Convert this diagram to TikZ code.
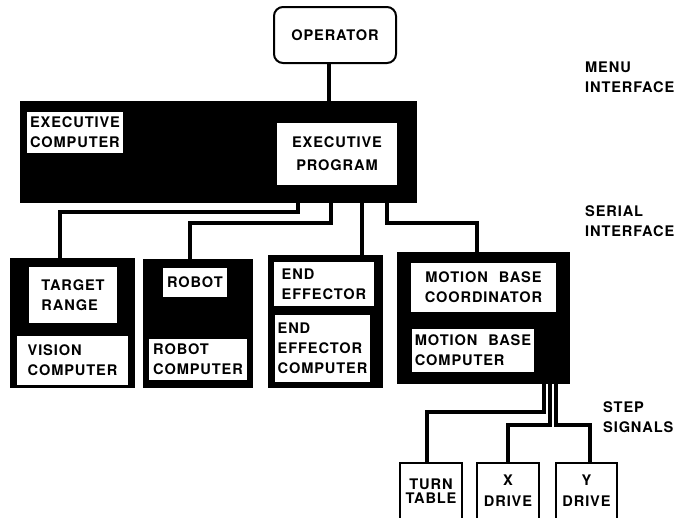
\documentclass[tikz,border=0pt]{standalone}
\usepackage{fontspec}
\setmainfont{TeX Gyre Heros}[LetterSpace=6]
\newcommand\lbltext{\bfseries\fontsize{14.6}{20}\selectfont}
\begin{document}
\begin{tikzpicture}[x=1pt,y=-1pt,
  box/.style={anchor=north west, inner sep=0pt, outer sep=0pt},
  blk/.style={box, fill=black},
  wht/.style={box, fill=white, align=left, font=\lbltext},
  obox/.style={box, draw=black, line width=2pt, fill=white, align=center, font=\lbltext},
  conn/.style={line width=3.4pt},
  side/.style={anchor=north west, align=left, font=\lbltext, inner sep=0pt}]
\useasboundingbox (0,0) rectangle (680,517);
% operator
\node[obox, rounded corners=9pt, minimum width=122, minimum height=56] (op) at (274,7) {OPERATOR};
% executive
\node[blk, minimum width=397, minimum height=102] (exec) at (20,101) {};
\node[wht, minimum width=96, minimum height=41] (ecomp) at (27,112) {EXECUTIVE\\COMPUTER};
\node[wht, minimum width=120, minimum height=62, align=center] (eprog) at (277,123) {EXECUTIVE\\[3pt]PROGRAM};
% target / vision
\node[blk, minimum width=125, minimum height=130] (tv) at (10,258) {};
\node[wht, minimum width=88, minimum height=56] (tr) at (29,267) {TARGET\\RANGE};
\node[wht, minimum width=111, minimum height=49] (vc) at (17,336) {VISION\\COMPUTER};
% robot
\node[blk, minimum width=110, minimum height=129] (rb) at (143,259) {};
\node[wht, minimum width=64, minimum height=29] (rob) at (163,268) {ROBOT};
\node[wht, minimum width=98, minimum height=41] (rc) at (149,339) {ROBOT\\COMPUTER};
% end effector
\node[blk, minimum width=115, minimum height=133] (ee) at (268,255) {};
\node[wht, minimum width=100, minimum height=44] (eef) at (274,262) {END\\EFFECTOR};
\node[wht, minimum width=95, minimum height=67] (eec) at (275,315) {END\\EFFECTOR\\COMPUTER};
% motion base
\node[blk, minimum width=173, minimum height=132] (mb) at (397,252) {};
\node[wht, minimum width=145, minimum height=49, align=center] (mbco) at (411,263) {MOTION\hspace{6pt} BASE\\COORDINATOR};
\node[wht, minimum width=122, minimum height=43] (mbc) at (412,329) {MOTION\hspace{6pt} BASE\\COMPUTER};
% drives
\node[obox, minimum width=62, minimum height=56] (tt) at (400,463) {TURN\\[-6pt]TABLE};
\node[obox, minimum width=62, minimum height=56] (xd) at (477,463) {X\\[1pt]DRIVE};
\node[obox, minimum width=61, minimum height=56] (yd) at (556,463) {Y\\[1pt]DRIVE};
% side labels
\node[side] (menu) at (585,62) {MENU\\INTERFACE};
\node[side] (serial) at (585,205) {SERIAL\\INTERFACE};
\node[side] (step) at (603,401) {STEP\\SIGNALS};
% connectors
\draw[conn] (op.south -| 329,0) -- (exec.north -| 329,0);
\draw[conn] (exec.south -| 298,0) -- ++(0,9) -| (tv.north -| 60,0);
\draw[conn] (exec.south -| 331,0) -- ++(0,20) -| (rb.north -| 190,0);
\draw[conn] (exec.south -| 362,0) -- (ee.north -| 362,0);
\draw[conn] (exec.south -| 387,0) -- ++(0,20) -| (mb.north -| 477,0);
\draw[conn] (mb.south -| 544,0) -- ++(0,28) -| (tt.north -| 427,0);
\draw[conn] (mb.south -| 550,0) -- ++(0,41) -| (xd.north -| 508,0);
\draw[conn] (mb.south -| 556,0) -- ++(0,41) -| (yd.north -| 590,0);
\end{tikzpicture}
\end{document}
